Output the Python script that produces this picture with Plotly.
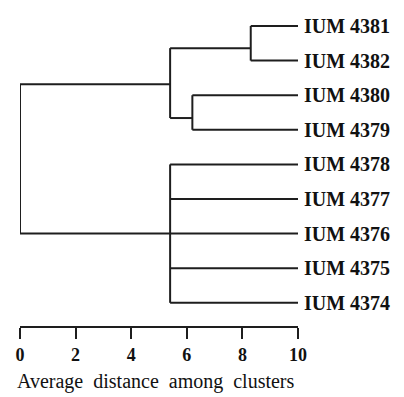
import plotly.graph_objects as go

# ---- data ----
leaf_labels = ["IUM 4381", "IUM 4382", "IUM 4380", "IUM 4379", "IUM 4378",
               "IUM 4377", "IUM 4376", "IUM 4375", "IUM 4374"]
leaf_pos = [0, 1, 2, 3, 4, 5, 6, 7, 8]
leaf_distance = 10.0

cluster_names = ["A", "B", "C", "D", "root"]
cluster_height = [8.3, 6.2, 5.4, 5.4, 0.0]
cluster_y = [0.64, 2.66, 1.68, 6.0, 3.8]
cluster_children = [
    ["IUM 4381", "IUM 4382"],
    ["IUM 4380", "IUM 4379"],
    ["A", "B"],
    ["IUM 4378", "IUM 4377", "IUM 4376", "IUM 4375", "IUM 4374"],
    ["C", "D"],
]

x_tick_vals = [0, 2, 4, 6, 8, 10]
x_title = "Average\u00a0 distance\u00a0 among\u00a0 clusters"

# ---- build node lookup ----
node_x = {lab: leaf_distance for lab in leaf_labels}
node_y = {lab: p for lab, p in zip(leaf_labels, leaf_pos)}
for n, h, y in zip(cluster_names, cluster_height, cluster_y):
    node_x[n] = h
    node_y[n] = y

line_color = "#1e1e1e"
fig = go.Figure()
for n, kids in zip(cluster_names, cluster_children):
    h = node_x[n]
    ys = [node_y[k] for k in kids]
    # vertical
    fig.add_trace(go.Scatter(x=[h, h], y=[min(ys), max(ys)], mode="lines",
                             line=dict(color=line_color, width=2),
                             hoverinfo="skip", showlegend=False, cliponaxis=False))
    # horizontals to children
    for k in kids:
        fig.add_trace(go.Scatter(x=[h, node_x[k]], y=[node_y[k], node_y[k]], mode="lines",
                                 line=dict(color=line_color, width=2),
                                 hoverinfo="skip", showlegend=False, cliponaxis=False))

serif = "Liberation Serif, Times New Roman, serif"
fig.update_layout(
    width=396, height=389,
    margin=dict(l=12, r=106, t=0, b=71, autoexpand=False),
    paper_bgcolor="white", plot_bgcolor="white",
    font=dict(family=serif, color="#111"),
    xaxis=dict(range=[0, 10], tickvals=x_tick_vals, ticktext=[str(v) for v in x_tick_vals],
               showline=True, linewidth=2, linecolor=line_color,
               ticks="outside", ticklen=11, tickwidth=2, tickcolor=line_color,
               showgrid=False, zeroline=False, automargin=False,
               tickfont=dict(family=serif, size=18, weight="bold", color="#111")),
    yaxis=dict(range=[8.67, -0.52], side="right", tickvals=leaf_pos, ticktext=leaf_labels,
               showline=False, ticks="", showgrid=False, zeroline=False, automargin=False,
               ticklabelstandoff=5,
               tickfont=dict(family=serif, size=20, weight="bold", color="#111")),
    annotations=[dict(text=x_title, xref="paper", yref="paper", x=0.49, y=0,
                      xanchor="center", yanchor="middle", yshift=-55, showarrow=False,
                      font=dict(family=serif, size=20, color="#111"))],
)

fig.write_html("out.html")
